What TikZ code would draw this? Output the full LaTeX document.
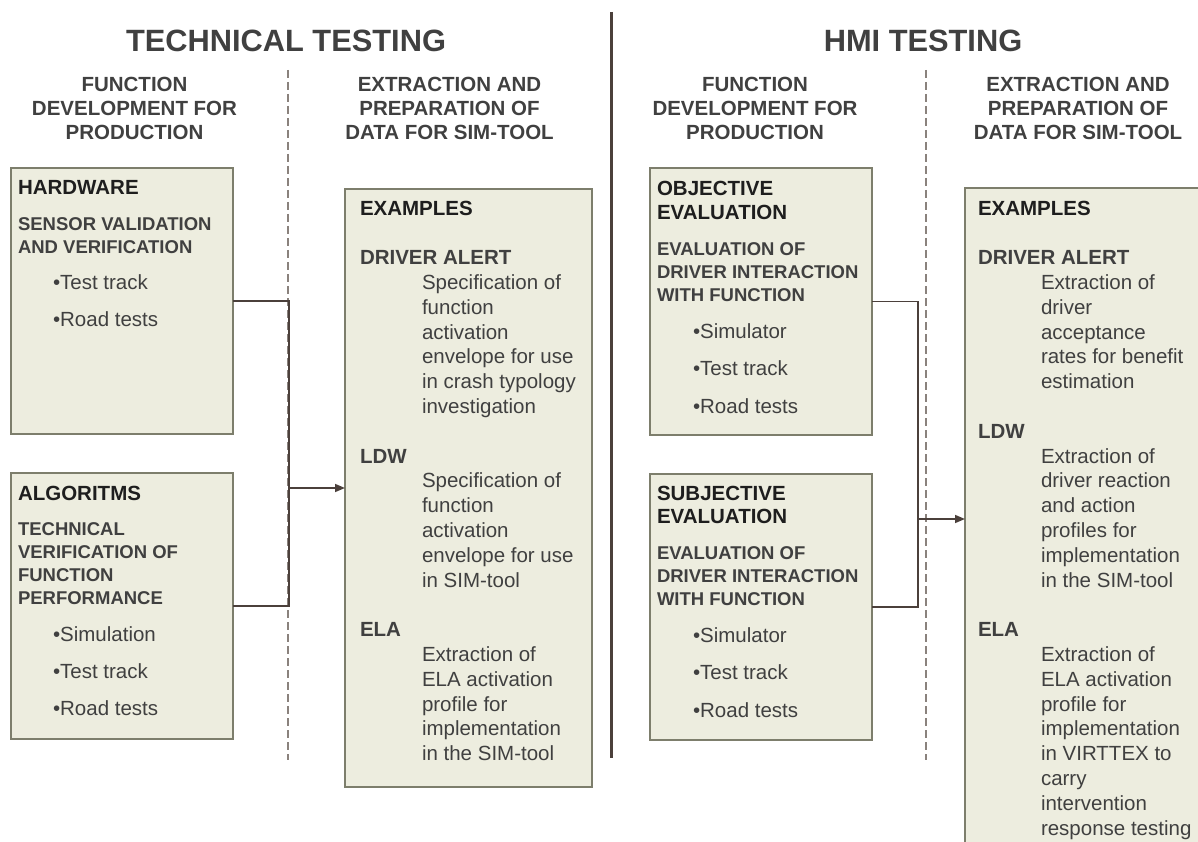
\documentclass[tikz,border=0pt]{standalone}
\usepackage{fontspec}
\setmainfont{Liberation Sans}
\usetikzlibrary{arrows.meta}
\definecolor{boxfill}{HTML}{EDEDDF}
\definecolor{boxline}{HTML}{7D7E6C}
\definecolor{linkc}{HTML}{4B403B}
\definecolor{dashc}{HTML}{8A827D}
\definecolor{txtdark}{HTML}{1E1E1E}
\definecolor{txtgrey}{HTML}{404040}

\begin{document}
\begin{tikzpicture}[x=1pt,y=-1pt,
  every node/.style={inner sep=0pt,outer sep=0pt},
  bigttl/.style={anchor=base,text=txtgrey,font=\bfseries\fontsize{30.8}{36}\selectfont},
  colhd/.style={anchor=base,text=txtgrey,font=\bfseries\fontsize{20.5}{24}\selectfont},
  panel/.style={draw=boxline,fill=boxfill,line width=1.8pt,anchor=north west},
  boxttl/.style={anchor=base west,text=txtdark,font=\bfseries\fontsize{20.5}{24}\selectfont},
  boxsub/.style={anchor=base west,text=txtgrey,font=\bfseries\fontsize{18.5}{22}\selectfont},
  listitem/.style={anchor=base west,text=txtgrey,font=\fontsize{20.5}{24}\selectfont},
  exhd/.style={anchor=base west,text=txtgrey,font=\bfseries\fontsize{20.5}{24}\selectfont},
  conn/.style={draw=linkc,line width=1.5pt},
  divider/.style={draw=dashc,line width=1.2pt,dash pattern=on 8pt off 4pt}]
\useasboundingbox (0,0) rectangle (1198,842);
% section dividers
\draw[conn,line width=3pt] (611,12) -- (611,758);
\draw[divider] (288,70) -- (288,760);
\draw[divider] (926,70) -- (926,760);
% titles and column heads
\node[bigttl] (techttl) at (286,52) {TECHNICAL TESTING};
\node[bigttl] (hmittl) at (923,52) {HMI TESTING};
\foreach \t [count=\i from 0] in {FUNCTION, DEVELOPMENT FOR, PRODUCTION}{
  \node[colhd] (lfd\i) at (134.5,92+24*\i) {\t};
  \node[colhd] (rfd\i) at (755,92+24*\i) {\t};
}
\foreach \t [count=\i from 0] in {EXTRACTION AND, PREPARATION OF, DATA FOR SIM-TOOL}{
  \node[colhd] (lex\i) at (449.5,92+24*\i) {\t};
  \node[colhd] (rex\i) at (1078,92+24*\i) {\t};
}
% technical testing boxes
\node[panel,minimum width=222pt,minimum height=266pt] (hw) at (11,168) {};
\node[boxttl] (hwt) at (18,195) {HARDWARE};
\foreach \t [count=\i from 0] in {SENSOR VALIDATION, AND VERIFICATION}
  \node[boxsub] (hws\i) at (18,230+23*\i) {\t};
\foreach \t [count=\i from 0] in {Test track, Road tests}
  \node[listitem] (hwi\i) at (53,289+37.5*\i) {•\t};
\node[panel,minimum width=222pt,minimum height=266pt] (alg) at (11,473) {};
\node[boxttl] (algt) at (18,500) {ALGORITMS};
\foreach \t [count=\i from 0] in {TECHNICAL, VERIFICATION OF, FUNCTION, PERFORMANCE}
  \node[boxsub] (algs\i) at (18,535+23*\i) {\t};
\foreach \t [count=\i from 0] in {Simulation, Test track, Road tests}
  \node[listitem] (algi\i) at (53,641+37*\i) {•\t};
\node[panel,minimum width=247pt,minimum height=598pt] (mid) at (345,189) {};
\node[boxttl] (midt) at (360,215) {EXAMPLES};
\node[exhd] (mida) at (360,264.6) {DRIVER ALERT};
\foreach \t [count=\i from 1] in {Specification of, function, activation, envelope for use, in crash typology, investigation}
  \node[listitem] (midax\i) at (422,264.6+24.8*\i) {\t};
\node[exhd] (midb) at (360,463) {LDW};
\foreach \t [count=\i from 1] in {Specification of, function, activation, envelope for use, in SIM-tool}
  \node[listitem] (midbx\i) at (422,463+24.8*\i) {\t};
\node[exhd] (midc) at (360,636.6) {ELA};
\foreach \t [count=\i from 1] in {Extraction of, ELA activation, profile for, implementation, in the SIM-tool}
  \node[listitem] (midcx\i) at (422,636.6+24.8*\i) {\t};
% hmi testing boxes
\node[panel,minimum width=222pt,minimum height=267pt] (obj) at (650,168) {};
\foreach \t [count=\i from 0] in {OBJECTIVE, EVALUATION}
  \node[boxttl] (objt\i) at (657,196+23.5*\i) {\t};
\foreach \t [count=\i from 0] in {EVALUATION OF, DRIVER INTERACTION, WITH FUNCTION}
  \node[boxsub] (objs\i) at (657,255+23*\i) {\t};
\foreach \t [count=\i from 0] in {Simulator, Test track, Road tests}
  \node[listitem] (obji\i) at (693,338+37.5*\i) {•\t};
\node[panel,minimum width=222pt,minimum height=266pt] (subj) at (650,474) {};
\foreach \t [count=\i from 0] in {SUBJECTIVE, EVALUATION}
  \node[boxttl] (subjt\i) at (657,500+23.5*\i) {\t};
\foreach \t [count=\i from 0] in {EVALUATION OF, DRIVER INTERACTION, WITH FUNCTION}
  \node[boxsub] (subjs\i) at (657,559+23*\i) {\t};
\foreach \t [count=\i from 0] in {Simulator, Test track, Road tests}
  \node[listitem] (subji\i) at (693,642+37.5*\i) {•\t};
\node[panel,minimum width=247pt,minimum height=662pt] (rex) at (965,188) {};
\node[boxttl] (rext) at (978,215) {EXAMPLES};
\node[exhd] (rexa) at (978,264.6) {DRIVER ALERT};
\foreach \t [count=\i from 1] in {Extraction of, driver, acceptance, rates for benefit, estimation}
  \node[listitem] (rexax\i) at (1041,264.6+24.8*\i) {\t};
\node[exhd] (rexb) at (978,438.2) {LDW};
\foreach \t [count=\i from 1] in {Extraction of, driver reaction, and action, profiles for, implementation, in the SIM-tool}
  \node[listitem] (rexbx\i) at (1041,438.2+24.8*\i) {\t};
\node[exhd] (rexc) at (978,636.6) {ELA};
\foreach \t [count=\i from 1] in {Extraction of, ELA activation, profile for, implementation, in VIRTTEX to, carry, intervention, response testing}
  \node[listitem] (rexcx\i) at (1041,636.6+24.8*\i) {\t};
% connectors
\coordinate (jl) at (289,488);
\coordinate (jr) at (918,519);
\draw[conn] (hw.east) -| (jl) |- (alg.east);
\draw[conn,-{Triangle[length=10pt,width=8pt]}] (jl) -- (mid.west);
\draw[conn] (obj.east) -| (jr) |- (subj.east);
\draw[conn,-{Triangle[length=10pt,width=8pt]}] (jr) -- (rex.west);
\end{tikzpicture}
\end{document}
